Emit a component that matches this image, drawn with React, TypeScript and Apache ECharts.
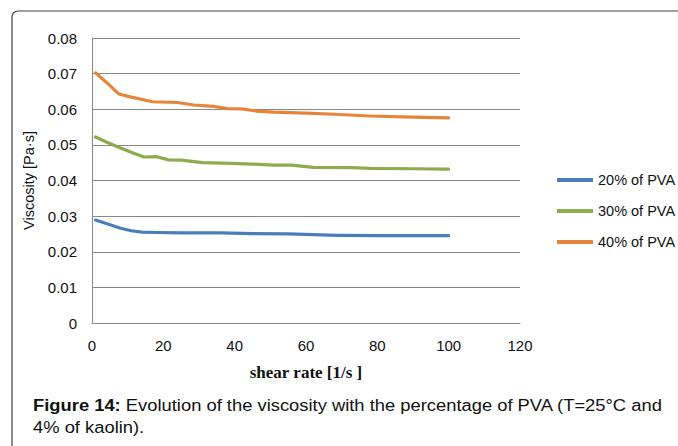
import React, { useEffect, useRef } from "react";
import * as echarts from "echarts";

const xTicks = [0, 20, 40, 60, 80, 100, 120];
const yTicks = [0, 0.01, 0.02, 0.03, 0.04, 0.05, 0.06, 0.07, 0.08];

const seriesNames = ["20% of PVA", "30% of PVA", "40% of PVA"];

const rate20 = [1, 4, 8, 11, 14, 18, 25, 36, 45, 55, 62, 69, 80, 92, 100];
const visc20 = [0.0289, 0.0279, 0.0266, 0.0259, 0.0255, 0.0254, 0.0253, 0.0253, 0.0251, 0.025, 0.0248, 0.0246, 0.0245, 0.0245, 0.0245];

const rate30 = [1, 4, 8, 11, 14.5, 18, 21.5, 25, 31, 39, 45, 51, 56, 62, 73, 78, 90, 100];
const visc30 = [0.0522, 0.0508, 0.0491, 0.0479, 0.0466, 0.0467, 0.0458, 0.0457, 0.045, 0.0448, 0.0446, 0.0443, 0.0443, 0.0437, 0.0436, 0.0434, 0.0433, 0.0432];

const rate40 = [1, 4, 7.5, 11, 17, 24, 28.5, 34, 38, 42, 46, 51, 60, 68, 78, 90, 100];
const visc40 = [0.0702, 0.0676, 0.0643, 0.0634, 0.0621, 0.0619, 0.0612, 0.0608, 0.0602, 0.0601, 0.0595, 0.0592, 0.0589, 0.0586, 0.0581, 0.0578, 0.0576];

const colors = ["#4A7EBB", "#8CAC4E", "#E6853A"];

const xTitle = "shear rate [1/s ]";
const yTitle = "Viscosity [Pa·s]";
const captionBold = "Figure 14:";
const captionRest = " Evolution of the viscosity with the percentage of PVA (T=25°C and";
const captionLine2 = "4% of kaolin).";

const zip = (xs: number[], ys: number[]) => xs.map((x, i) => [x, ys[i]]);

export default function App() {
  const ref = useRef<HTMLDivElement>(null);
  useEffect(() => {
    if (!ref.current) return;
    const chart = echarts.init(ref.current, undefined, { renderer: "svg" });
    const font = "'Liberation Sans', Arial, sans-serif";
    const datasets = [zip(rate20, visc20), zip(rate30, visc30), zip(rate40, visc40)];
    chart.setOption({
      animation: false,
      backgroundColor: "#ffffff",
      grid: { left: 92, right: 158, top: 38, bottom: 123, containLabel: false },
      xAxis: {
        type: "value",
        min: xTicks[0],
        max: xTicks[xTicks.length - 1],
        interval: 20,
        name: xTitle,
        nameLocation: "middle",
        nameGap: 41,
        nameTextStyle: { fontFamily: "'Liberation Serif', 'Times New Roman', serif", fontWeight: "bold", fontSize: 17, color: "#111" },
        axisLine: { show: true, lineStyle: { color: "#888", width: 1 } },
        axisTick: { show: false },
        splitLine: { show: false },
        axisLabel: { color: "#111", fontSize: 15, fontFamily: font, margin: 15 },
      },
      yAxis: {
        type: "value",
        min: yTicks[0],
        max: yTicks[yTicks.length - 1],
        interval: 0.01,
        name: yTitle,
        nameLocation: "middle",
        nameGap: 53,
        nameRotate: 90,
        nameTextStyle: { fontFamily: font, fontSize: 14.5, color: "#111" },
        axisLine: { show: true, lineStyle: { color: "#888", width: 1 } },
        axisTick: { show: false },
        splitLine: { show: true, lineStyle: { color: "#888", width: 1 } },
        axisLabel: {
          color: "#111",
          fontSize: 15,
          fontFamily: font,
          margin: 15,
          formatter: (v: number) => (v === 0 ? "0" : v.toFixed(2)),
        },
      },
      legend: {
        orient: "vertical",
        left: 557,
        top: 172,
        padding: 0,
        icon: "rect",
        itemWidth: 36,
        itemHeight: 4,
        itemGap: 15,
        data: seriesNames,
        textStyle: { fontFamily: font, fontSize: 14.5, color: "#111", lineHeight: 16 },
      },
      series: seriesNames.map((name, i) => ({
        name,
        type: "line",
        data: datasets[i],
        symbol: "none",
        smooth: false,
        lineStyle: { color: colors[i], width: 3.2, cap: "round", join: "round" },
        itemStyle: { color: colors[i] },
      })),
      graphic: [
        {
          type: "rect",
          shape: { x: 12, y: 11, width: 720, height: 500, r: [6, 0, 0, 0] },
          style: { fill: "none", stroke: "#444", lineWidth: 1.2 },
          silent: true,
        },
        {
          type: "text",
          x: 33,
          y: 394,
          scaleX: 1.08,
          style: {
            text: "{b|" + captionBold + "}{n|" + captionRest + "}\n{n|" + captionLine2 + "}",
            fontFamily: font,
            fontSize: 17,
            fill: "#111",
            rich: {
              b: { fontFamily: font, fontSize: 17, fontWeight: "bold", fill: "#111", lineHeight: 22 },
              n: { fontFamily: font, fontSize: 17, fill: "#111", lineHeight: 22 },
            },
          },
        },
      ],
    });
    return () => chart.dispose();
  }, []);
  return <div ref={ref} style={{ position: "fixed", left: 0, top: 0, width: 678, height: 446 }} />;
}
